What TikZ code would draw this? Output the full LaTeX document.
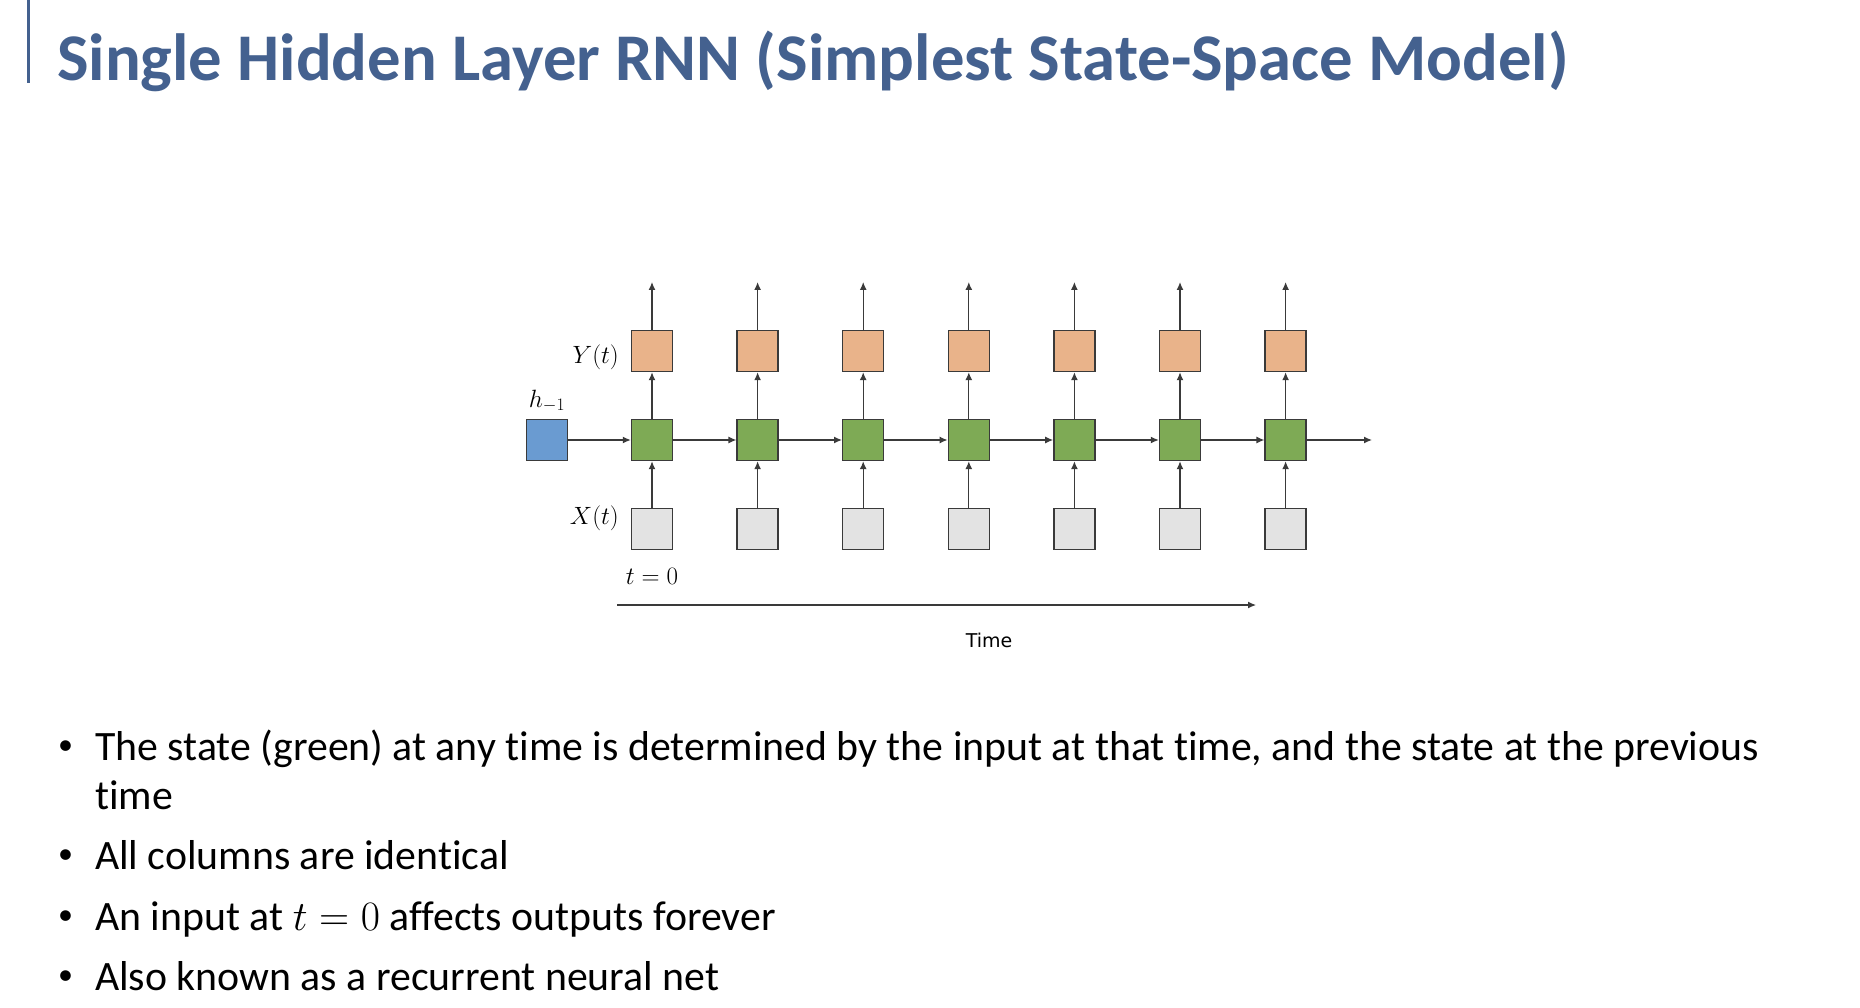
\RequirePackage{fix-cm}
\documentclass[tikz,border=0pt]{standalone}
\usepackage{fontspec}
\setmainfont[Ligatures = NoCommon]{Carlito}
\newfontfamily\axisfont{DejaVu Sans}
\usepackage{tikz}
\usetikzlibrary{arrows.meta, positioning, calc}
\definecolor{TitleBlue}{HTML}{44618F}
\definecolor{StateGreen}{HTML}{7EAA55}
\definecolor{OutOrange}{HTML}{E9B38A}
\definecolor{InGray}{HTML}{E3E3E3}
\definecolor{InitBlue}{HTML}{6A9BD1}
\definecolor{LineGray}{HTML}{3A3A3A}

\tikzset{
  cell/.style = {draw = LineGray, line width = 1.4pt, minimum size = 41pt, inner sep = 0pt},
  flow/.style = {-{Latex[length = 8pt, width = 7pt]}, draw = LineGray, line width = 1.3pt},
  mathlabel/.style = {font = \fontsize{25}{29}\selectfont, inner sep = 0pt},
  bullettext/.style = {anchor = base west, inner sep = 0pt, font = \fontsize{41.8}{50}\selectfont},
  bulletdot/.style = {anchor = base west, inner sep = 0pt, font = \fontsize{30}{36}\selectfont}
}

\begin{document}
\begin{tikzpicture}[x = 1pt, y = -1pt]
	\path [use as bounding box, draw = none, fill = white] (0, 0) rectangle (1860, 1008);
	\fill[TitleBlue] (27, 0) rectangle (30, 83);
	\node[anchor = base west, inner sep = 0pt, text = TitleBlue, font = \bfseries\fontsize{66.7}{80}\selectfont] (title) at (57, 81) {Single Hidden Layer RNN (Simplest State-Space Model)};

	\node[cell, fill = InitBlue] (s0) at (547, 440) {};
	\node[mathlabel, anchor = base] (hlabel) at (547, 407) {$h_{-1}$};
	\foreach \i [evaluate = \i as \j using int(\i - 1), evaluate = \i as \xc using 652 + (\i - 1) * 105.6] in {1, ..., 7} {
		\node[cell, fill = StateGreen] (s\i) at (\xc, 440) {};
		\node[cell, fill = OutOrange] (y\i) at (\xc, 351) {};
		\node[cell, fill = InGray] (x\i) at (\xc, 529) {};
		\coordinate (o\i) at (\xc, 282);
		\draw[flow] (x\i) -- (s\i);
		\draw[flow] (s\i) -- (y\i);
		\draw[flow] (y\i) -- (o\i);
		\draw[flow] (s\j) -- (s\i);
	}
	\coordinate (hend) at (1372, 440);
	\draw[flow] (s7) -- (hend);

	\node[mathlabel, anchor = east] (ylabel) at (619, 357) {$Y(t)$};
	\node[mathlabel, anchor = east] (xlabel) at (619, 518) {$X(t)$};
	\node[mathlabel] (tzero) at (652, 576) {$t=0$};

	\coordinate (tstart) at (617, 605);
	\coordinate (tend) at (1256, 605);
	\draw[flow, line width = 1.2pt] (tstart) -- (tend);
	\node[font = \axisfont\fontsize{19}{22}\selectfont] (timelabel) at (989, 640) {Time};

	\node[bulletdot] (d1) at (58, 754) {\textbullet};
	\node[bullettext] (b1) at (95, 760) {The state (green) at any time is determined by the input at that time, and the state at the previous};
	\node[bullettext] (b1b) at (95, 809) {time};
	\node[bulletdot] (d2) at (58, 863) {\textbullet};
	\node[bullettext] (b2) at (95, 869) {All columns are identical};
	\node[bulletdot] (d3) at (58, 924) {\textbullet};
	\node[bullettext] (b3) at (95, 930) {An input at $t = 0$ affects outputs forever};
	\node[bulletdot] (d4) at (58, 984) {\textbullet};
	\node[bullettext] (b4) at (95, 990) {Also known as a recurrent neural net};
\end{tikzpicture}
\end{document}
